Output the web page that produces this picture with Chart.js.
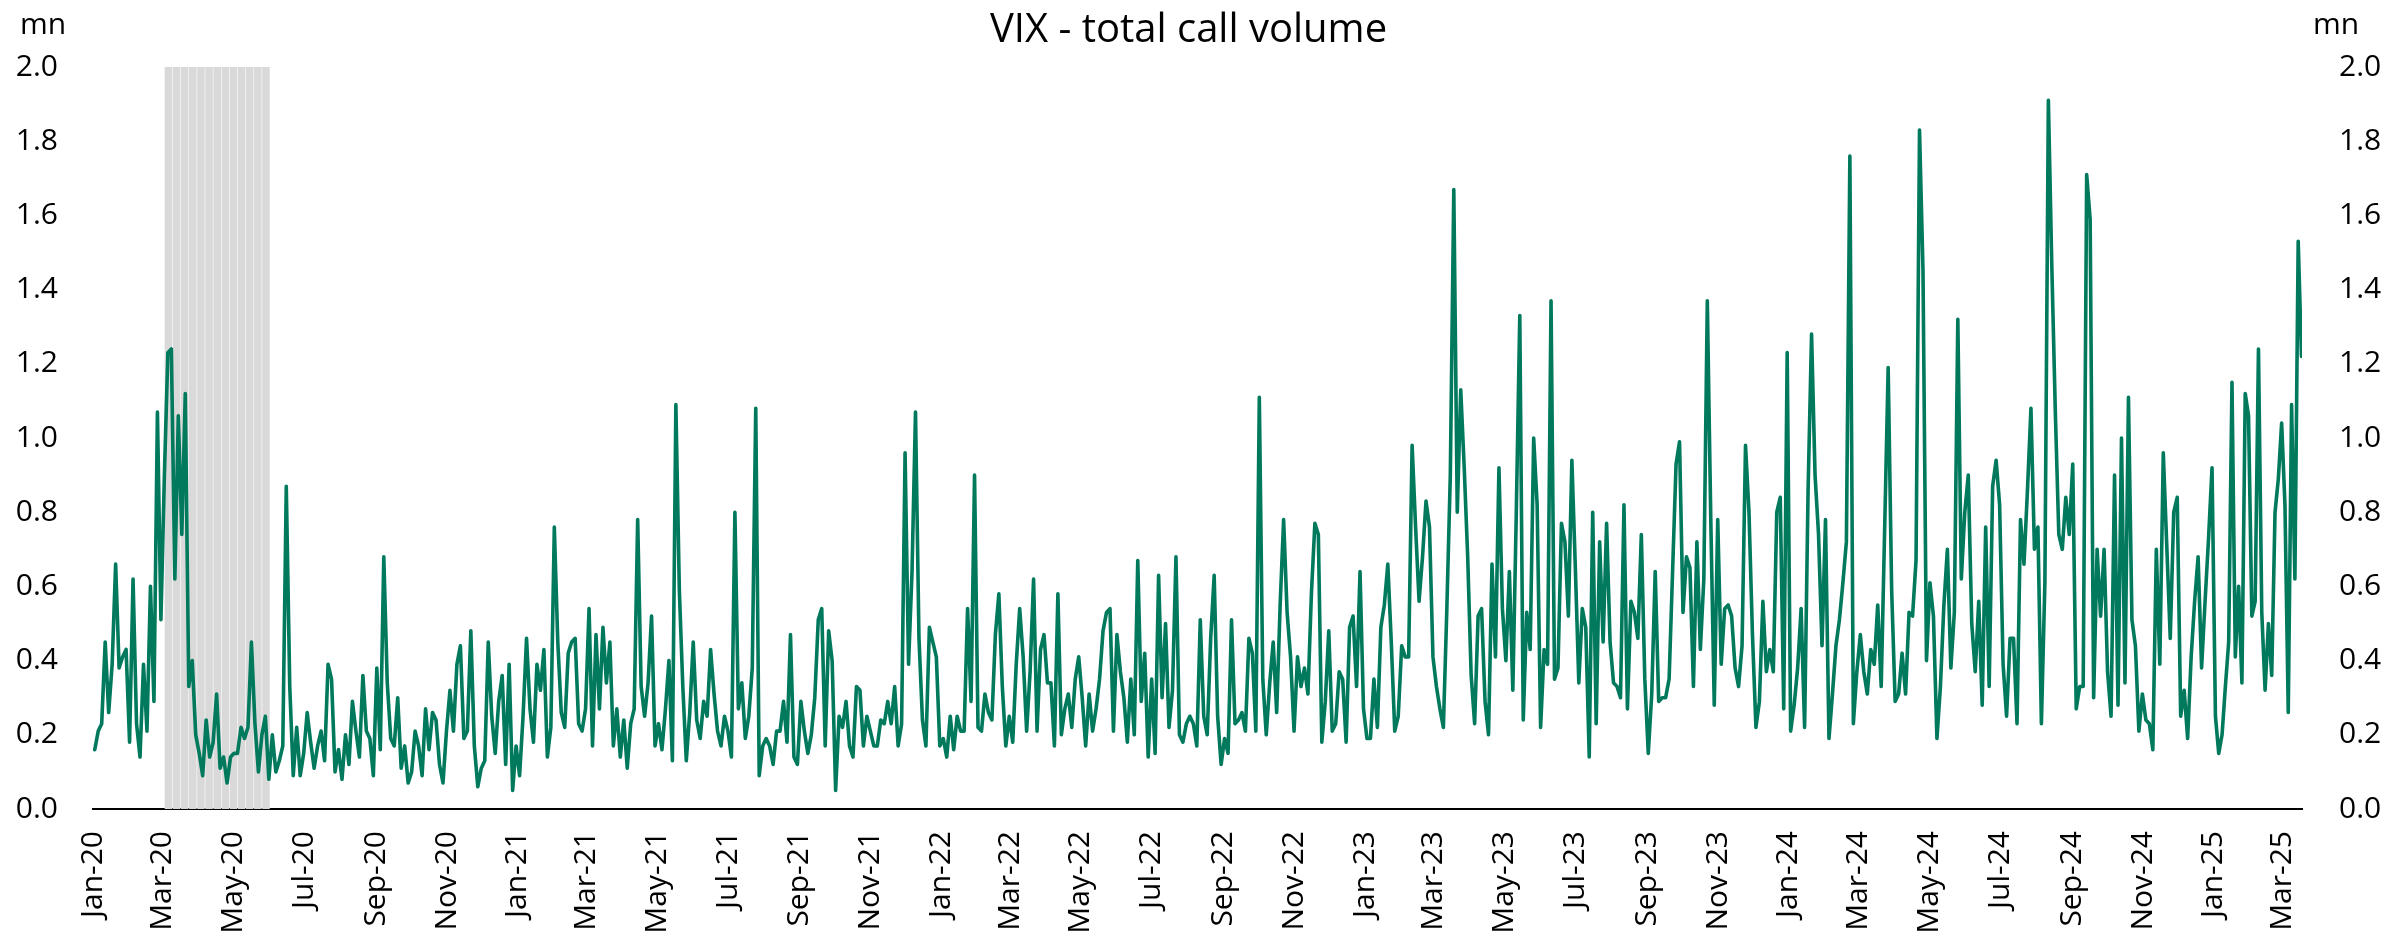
<!DOCTYPE html>
<html lang="en">

<head>
  <meta charset="UTF-8" />
  <title>VIX - total call volume</title>
  <style>
    html, body { margin: 0; padding: 0; background: #fff; }
    .chart--wrapper { position: relative; width: 2389px; height: 950px; }
  </style>
</head>

<body>
  <div class="chart--wrapper">
    <canvas id="vixChart"></canvas>
  </div>

  <script src="https://cdn.jsdelivr.net/npm/chart.js"></script>
  <script>
    // VIX total call volume (mn), about one value every 3 days
    const vol2020 = [
      0.16, 0.21, 0.23, 0.45, 0.26, 0.39, 0.66, 0.38, 0.41, 0.43,
      0.18, 0.62, 0.23, 0.14, 0.39, 0.21, 0.60, 0.29, 1.07, 0.51,
      0.90, 1.23, 1.24, 0.62, 1.06, 0.74, 1.12, 0.33, 0.40, 0.20,
      0.15, 0.09, 0.24, 0.14, 0.18, 0.31, 0.11, 0.14, 0.07, 0.14,
      0.15, 0.15, 0.22, 0.19, 0.22, 0.45, 0.23, 0.10, 0.20, 0.25,
      0.08, 0.20, 0.10, 0.13, 0.17, 0.87, 0.33, 0.09, 0.22, 0.09,
      0.15, 0.26, 0.18,
      0.11, 0.17, 0.21, 0.13, 0.39, 0.35, 0.10, 0.16, 0.08, 0.20,
      0.12, 0.29, 0.21, 0.14, 0.36, 0.21, 0.19, 0.09, 0.38, 0.16,
      0.68, 0.34, 0.19, 0.17, 0.30, 0.11, 0.17, 0.07, 0.10, 0.21,
      0.17, 0.09, 0.27, 0.16, 0.26, 0.24, 0.12, 0.07, 0.21, 0.32,
      0.21, 0.39, 0.44, 0.19, 0.21, 0.48, 0.17, 0.06, 0.11, 0.13,
      0.45, 0.25, 0.15, 0.29, 0.36, 0.12, 0.39, 0.05, 0.17
    ];
    const vol2021 = [
      0.09, 0.25, 0.46, 0.27, 0.18,
      0.39, 0.32, 0.43, 0.14, 0.22, 0.76, 0.45, 0.26, 0.22, 0.42,
      0.45, 0.46, 0.23, 0.21, 0.27, 0.54, 0.17, 0.47, 0.27, 0.49,
      0.34, 0.45, 0.17, 0.27, 0.14, 0.24, 0.11, 0.23, 0.27, 0.78,
      0.33, 0.25, 0.34, 0.52, 0.17, 0.23, 0.16, 0.27, 0.40, 0.13,
      1.09, 0.59, 0.33, 0.13, 0.26, 0.45, 0.24, 0.19, 0.29, 0.25,
      0.43, 0.31, 0.21, 0.17, 0.25, 0.21, 0.14, 0.80, 0.27, 0.34,
      0.19, 0.25, 0.38, 1.08,
      0.09, 0.17, 0.19, 0.17, 0.12, 0.21, 0.21, 0.29, 0.18, 0.47,
      0.14, 0.12, 0.29, 0.21, 0.15, 0.20, 0.30, 0.51, 0.54, 0.17,
      0.48, 0.40, 0.05, 0.25, 0.22, 0.29, 0.17, 0.14, 0.33, 0.32,
      0.17, 0.25, 0.21, 0.17, 0.17, 0.24, 0.23, 0.29, 0.23, 0.33,
      0.17, 0.23, 0.96, 0.39, 0.64, 1.07, 0.46, 0.24, 0.17, 0.49,
      0.45, 0.41, 0.17
    ];
    const vol2022 = [
      0.19, 0.14, 0.25, 0.16, 0.25, 0.21, 0.21, 0.54, 0.29, 0.90,
      0.22, 0.21, 0.31, 0.26, 0.24, 0.47, 0.58, 0.33, 0.17, 0.25,
      0.18, 0.39, 0.54, 0.41, 0.21, 0.37, 0.62, 0.21, 0.43, 0.47,
      0.34, 0.34, 0.17, 0.58, 0.20, 0.27, 0.31, 0.22, 0.35, 0.41,
      0.30, 0.17, 0.31, 0.21, 0.27, 0.35, 0.48, 0.53, 0.54, 0.21,
      0.47, 0.37, 0.30, 0.18, 0.35, 0.20, 0.67, 0.29, 0.42, 0.14,
      0.35, 0.15, 0.63, 0.30, 0.50, 0.22, 0.32, 0.68, 0.20, 0.18,
      0.23, 0.25, 0.23, 0.17,
      0.51, 0.25, 0.20, 0.46, 0.63, 0.25, 0.12, 0.19, 0.15, 0.51,
      0.23, 0.24, 0.26, 0.21, 0.46, 0.42, 0.21, 1.11, 0.35, 0.20,
      0.34, 0.45, 0.26, 0.55, 0.78, 0.53, 0.41, 0.21, 0.41, 0.33,
      0.38, 0.31, 0.58, 0.77, 0.74, 0.18, 0.29, 0.48, 0.21, 0.23,
      0.37, 0.35, 0.18, 0.49, 0.52, 0.33, 0.64, 0.27
    ];
    const vol2023 = [
      0.19, 0.19, 0.35, 0.22, 0.49, 0.55, 0.66, 0.45, 0.21, 0.25,
      0.44, 0.41, 0.41, 0.98, 0.76,
      0.56, 0.68, 0.83, 0.76, 0.41, 0.33, 0.27, 0.22, 0.54, 0.90,
      1.67, 0.80, 1.13, 0.92, 0.68, 0.36, 0.23, 0.52, 0.54, 0.29,
      0.20, 0.66, 0.41, 0.92, 0.54, 0.40, 0.64, 0.32, 0.80, 1.33,
      0.24, 0.53, 0.43, 1.00, 0.82, 0.22, 0.43, 0.39, 1.37, 0.35,
      0.38, 0.77, 0.72, 0.52, 0.94, 0.65, 0.34, 0.54, 0.49, 0.14,
      0.80, 0.23, 0.72, 0.45, 0.77, 0.45, 0.34, 0.33, 0.30, 0.82,
      0.27, 0.56, 0.53, 0.46, 0.74,
      0.35, 0.15, 0.31, 0.64, 0.29, 0.30, 0.30, 0.35, 0.64, 0.93,
      0.99, 0.53, 0.68, 0.65, 0.33, 0.72, 0.43, 0.62, 1.37, 0.78,
      0.28, 0.78, 0.39, 0.54, 0.55, 0.52, 0.38, 0.33, 0.44, 0.98,
      0.80, 0.47, 0.22, 0.29, 0.56, 0.37, 0.43, 0.37, 0.80, 0.84,
      0.27, 1.23
    ];
    const vol2024 = [
      0.21, 0.28, 0.38, 0.54, 0.22, 0.86, 1.28, 0.90, 0.74, 0.44,
      0.78, 0.19, 0.31, 0.44, 0.51, 0.61, 0.72, 1.76, 0.23, 0.37,
      0.47, 0.37, 0.31, 0.43, 0.39, 0.55, 0.33, 0.76, 1.19, 0.59,
      0.29, 0.31, 0.42, 0.31, 0.53, 0.52, 0.67, 1.83, 1.45, 0.40,
      0.61, 0.52, 0.19, 0.33, 0.55, 0.70, 0.38, 0.53, 1.32, 0.62,
      0.80, 0.90, 0.50, 0.37, 0.56, 0.28, 0.76, 0.33, 0.87, 0.94,
      0.82, 0.39, 0.25, 0.46, 0.46, 0.23, 0.78, 0.66, 0.86, 1.08,
      0.70, 0.76, 0.23, 0.61, 1.91, 1.46, 1.07, 0.74, 0.70, 0.84,
      0.74, 0.93, 0.27, 0.33,
      0.33, 1.71, 1.59, 0.30, 0.70, 0.52, 0.70, 0.37, 0.25, 0.90,
      0.28, 1.00, 0.34, 1.11, 0.51, 0.44, 0.21, 0.31, 0.24, 0.23,
      0.16, 0.70, 0.39, 0.96, 0.71, 0.46, 0.80, 0.84, 0.25, 0.32,
      0.19, 0.41, 0.56, 0.68, 0.38, 0.56, 0.73, 0.92
    ];
    const vol2025 = [
      0.25, 0.15, 0.20, 0.33, 0.45, 1.15, 0.41, 0.60, 0.34, 1.12,
      1.06, 0.52, 0.56, 1.24, 0.53, 0.32, 0.50, 0.36, 0.80, 0.89,
      1.04, 0.82, 0.26, 1.09, 0.62, 1.53, 1.22
    ];

    // x axis labels, one every two months
    const tickLabels = [
      'Jan-20', 'Mar-20', 'May-20', 'Jul-20', 'Sep-20', 'Nov-20',
      'Jan-21', 'Mar-21', 'May-21', 'Jul-21', 'Sep-21', 'Nov-21',
      'Jan-22', 'Mar-22', 'May-22', 'Jul-22', 'Sep-22', 'Nov-22',
      'Jan-23', 'Mar-23', 'May-23', 'Jul-23', 'Sep-23', 'Nov-23',
      'Jan-24', 'Mar-24', 'May-24', 'Jul-24', 'Sep-24', 'Nov-24',
      'Jan-25', 'Mar-25'
    ];

    // grey shaded weeks (2020 recession)
    const recessionWeeks = [
      '2020-03-06', '2020-03-13', '2020-03-20', '2020-03-27', '2020-04-03',
      '2020-04-10', '2020-04-17', '2020-04-24', '2020-05-01', '2020-05-08',
      '2020-05-15', '2020-05-22', '2020-05-29'
    ];

    const DAY = 86400000;
    const origin = Date.UTC(2020, 0, 1);
    const dayNum = (y, m, d) => (Date.UTC(y, m, d) - origin) / DAY;

    // spread each year's values over that year's days
    const yearSeries = [
      { values: vol2020, from: dayNum(2020, 0, 1), to: dayNum(2021, 0, 1) },
      { values: vol2021, from: dayNum(2021, 0, 1), to: dayNum(2022, 0, 1) },
      { values: vol2022, from: dayNum(2022, 0, 1), to: dayNum(2023, 0, 1) },
      { values: vol2023, from: dayNum(2023, 0, 1), to: dayNum(2024, 0, 1) },
      { values: vol2024, from: dayNum(2024, 0, 1), to: dayNum(2025, 0, 1) },
      { values: vol2025, from: dayNum(2025, 0, 1), to: dayNum(2025, 2, 19) }
    ];
    const linePoints = [];
    yearSeries.forEach(seg => {
      const step = (seg.to - seg.from) / seg.values.length;
      seg.values.forEach((v, i) => linePoints.push({ x: seg.from + (i + 0.5) * step, y: v }));
    });

    const recessionBars = recessionWeeks.map(s => ({ x: (Date.parse(s) - origin) / DAY, y: 2 }));
    const tickDays = tickLabels.map((lbl, k) => dayNum(2020 + Math.floor(2 * k / 12), (2 * k) % 12, 1));

    const FONT = '"Open Sans", "Noto Sans", sans-serif';

    // title and the "mn" unit labels
    const extraText = {
      id: 'extraText',
      afterDraw(chart) {
        const ctx = chart.ctx;
        ctx.save();
        ctx.fillStyle = '#000';
        ctx.textBaseline = 'middle';
        ctx.textAlign = 'center';
        ctx.font = '40px ' + FONT;
        ctx.fillText('VIX - total call volume', chart.width / 2 - 6, 31);
        ctx.font = '30px ' + FONT;
        ctx.textAlign = 'left';
        ctx.fillText('mn', 20, 25);
        ctx.fillText('mn', chart.chartArea.right + 11, 25);
        ctx.restore();
      }
    };

    const tickFont = { family: FONT, size: 30 };

    const ctx = document.getElementById('vixChart').getContext('2d');
    new Chart(ctx, {
      type: 'line',
      data: {
        datasets: [
          {
            type: 'line',
            label: 'VIX total call volume',
            data: linePoints,
            borderColor: '#00795C',
            borderWidth: 3.6,
            pointRadius: 0,
            tension: 0,
            borderJoinStyle: 'round',
            borderCapStyle: 'round',
            yAxisID: 'y',
            order: 1
          },
          {
            type: 'bar',
            label: 'Recession',
            data: recessionBars,
            backgroundColor: '#D9D9D9',
            borderWidth: 0,
            barPercentage: 0.93,
            categoryPercentage: 1,
            yAxisID: 'y',
            order: 2
          }
        ]
      },
      options: {
        responsive: true,
        maintainAspectRatio: false,
        animation: false,
        layout: { padding: { top: 67, left: 0, right: 0, bottom: 0 } },
        plugins: {
          legend: { display: false },
          tooltip: { enabled: false },
          title: { display: false }
        },
        scales: {
          x: {
            type: 'linear',
            min: 0,
            max: 1903,
            offset: false,
            grid: { display: false, drawTicks: false },
            border: { display: true, color: '#000', width: 2 },
            afterBuildTicks: scale => { scale.ticks = tickDays.map(v => ({ value: v })); },
            afterFit: scale => { scale.height = 141; },
            ticks: {
              autoSkip: false,
              minRotation: 90,
              maxRotation: 90,
              padding: 22,
              color: '#000',
              font: tickFont,
              callback: (value, index) => tickLabels[index]
            }
          },
          y: {
            position: 'left',
            min: 0,
            max: 2,
            grid: { display: false, drawTicks: false },
            border: { display: false },
            afterFit: scale => { scale.width = 93; },
            ticks: { stepSize: 0.2, padding: 35, color: '#000', font: tickFont, callback: v => v.toFixed(1) }
          },
          y2: {
            position: 'right',
            min: 0,
            max: 2,
            grid: { display: false, drawTicks: false },
            border: { display: false },
            afterFit: scale => { scale.width = 87; },
            ticks: { stepSize: 0.2, padding: 37, color: '#000', font: tickFont, callback: v => v.toFixed(1) }
          }
        }
      },
      plugins: [extraText]
    });
  </script>
</body>

</html>
